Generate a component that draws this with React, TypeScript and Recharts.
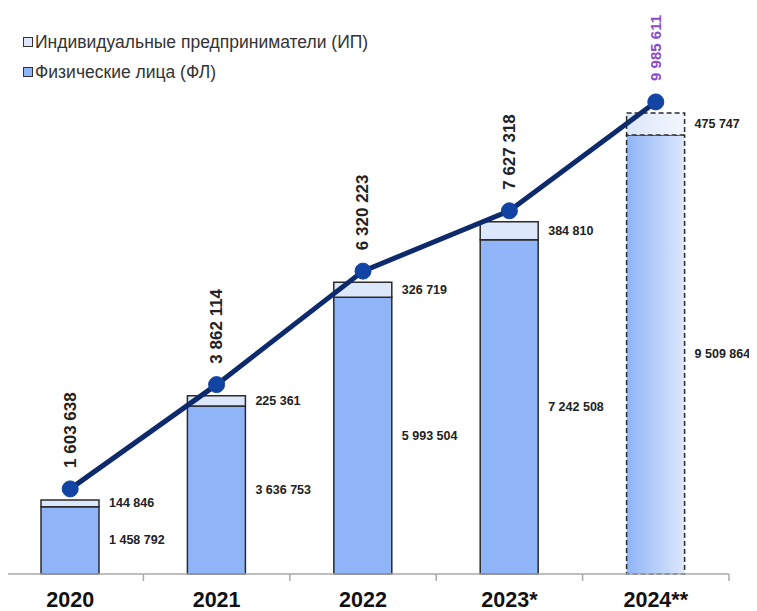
import React from 'react';
import { ComposedChart, Bar, Line, XAxis, YAxis, Cell, LabelList } from 'recharts';

const years = ['2020', '2021', '2022', '2023*', '2024**'];
const flValues = [1458792, 3636753, 5993504, 7242508, 9509864];
const ipValues = [144846, 225361, 326719, 384810, 475747];
const totalValues = [1603638, 3862114, 6320223, 7627318, 9985611];

const data = years.map((year, i) => ({
  year,
  fl: flValues[i],
  ip: ipValues[i],
  total: totalValues[i],
}));

const FONT = '"Liberation Sans", Arial, Helvetica, sans-serif';
const TICK_GAP = 18; // tickSize + tickMargin of the year axis
const fmt = (v: number) => String(v).replace(/\B(?=(\d{3})+(?!\d))/g, ' ');

const renderBarLabel = (props: any) => {
  const { x, y, width, height, value } = props;
  return (
    <text
      x={x + width + 10}
      y={y + height / 2}
      dominantBaseline="central"
      fontSize={12.5}
      fontWeight="bold"
      fill="#222"
      fontFamily={FONT}
    >
      {fmt(value)}
    </text>
  );
};

const renderTotalLabel = (props: any) => {
  const { x, y, value, index } = props;
  const last = index === totalValues.length - 1;
  const tx = x;
  const ty = y - 21;
  return (
    <text
      x={tx}
      y={ty}
      transform={`rotate(-90 ${tx} ${ty})`}
      textAnchor="start"
      dominantBaseline="central"
      fontSize={last ? 15 : 17}
      fontWeight="bold"
      fill={last ? '#8a4cc8' : '#222'}
      fontFamily={FONT}
    >
      {fmt(value)}
    </text>
  );
};

// year label plus a small tick mark at the right edge of the category band
const renderYearTick = (props: any) => {
  const { x, y, payload } = props;
  const half = payload && payload.offset ? payload.offset : 73.25;
  const axisY = y - TICK_GAP;
  return (
    <g>
      <line x1={x + half} x2={x + half} y1={axisY} y2={axisY + 7} stroke="#aaa" strokeWidth={1.5} />
      <text
        x={x}
        y={y}
        dy="0.71em"
        textAnchor="middle"
        fill="#111"
        fontSize={21.5}
        fontWeight="bold"
        fontFamily={FONT}
      >
        {payload.value}
      </text>
    </g>
  );
};

const LegendItem = ({ top, fill, label }: { top: number; fill: string; label: string }) => (
  <div
    style={{
      position: 'absolute',
      left: 26,
      top,
      height: 20,
      display: 'flex',
      alignItems: 'center',
      fontFamily: FONT,
      fontSize: 17.5,
      color: '#333',
      whiteSpace: 'nowrap',
    }}
  >
    <span
      style={{
        width: 8,
        height: 8,
        background: fill,
        border: '1px solid #333',
        marginRight: 2,
        display: 'inline-block',
      }}
    />
    {label}
  </div>
);

export default function App() {
  return (
    <div style={{ position: 'relative', width: 760, height: 603, marginLeft: -11 }}>
      <ComposedChart
        width={760}
        height={603}
        data={data}
        margin={{ top: 12, right: 28, bottom: 0, left: 0 }}
      >
        <defs>
          <linearGradient id="flGrad" x1="0" y1="0" x2="1" y2="0">
            <stop offset="0%" stopColor="#8fb4f7" />
            <stop offset="100%" stopColor="#dde8fc" />
          </linearGradient>
          <linearGradient id="ipGrad" x1="0" y1="0" x2="1" y2="0">
            <stop offset="0%" stopColor="#dce7fb" />
            <stop offset="100%" stopColor="#f3f6fd" />
          </linearGradient>
        </defs>
        <XAxis
          dataKey="year"
          axisLine={{ stroke: '#aaa', strokeWidth: 1.5 }}
          tickLine={false}
          tickSize={12}
          tickMargin={6}
          height={37}
          tick={renderYearTick}
        />
        <YAxis yAxisId="bar" hide domain={[0, 12000000]} />
        <YAxis yAxisId="line" hide domain={[-240000, 11760000]} />
        <Bar
          yAxisId="bar"
          dataKey="fl"
          stackId="a"
          barSize={58}
          fill="#8fb4f7"
          stroke="#2b2b2b"
          strokeWidth={1.5}
          isAnimationActive={false}
        >
          {data.map((d, i) => (
            <Cell
              key={d.year}
              fill={i === data.length - 1 ? 'url(#flGrad)' : '#8fb4f7'}
              strokeDasharray={i === data.length - 1 ? '5 3' : undefined}
            />
          ))}
          <LabelList dataKey="fl" content={renderBarLabel} />
        </Bar>
        <Bar
          yAxisId="bar"
          dataKey="ip"
          stackId="a"
          barSize={58}
          fill="#dce7fb"
          stroke="#2b2b2b"
          strokeWidth={1.5}
          isAnimationActive={false}
        >
          {data.map((d, i) => (
            <Cell
              key={d.year}
              fill={i === data.length - 1 ? 'url(#ipGrad)' : '#dce7fb'}
              strokeDasharray={i === data.length - 1 ? '5 3' : undefined}
            />
          ))}
          <LabelList dataKey="ip" content={renderBarLabel} />
        </Bar>
        <Line
          yAxisId="line"
          dataKey="total"
          stroke="#0c2a6c"
          strokeWidth={5}
          dot={{ r: 8, fill: '#1244a4', stroke: '#1244a4', strokeWidth: 1 }}
          activeDot={false}
          isAnimationActive={false}
        >
          <LabelList dataKey="total" content={renderTotalLabel} />
        </Line>
      </ComposedChart>
      <LegendItem top={24} fill="#dce7fb" label="Индивидуальные предприниматели (ИП)" />
      <LegendItem top={54} fill="#8fb4f7" label="Физические лица (ФЛ)" />
    </div>
  );
}
